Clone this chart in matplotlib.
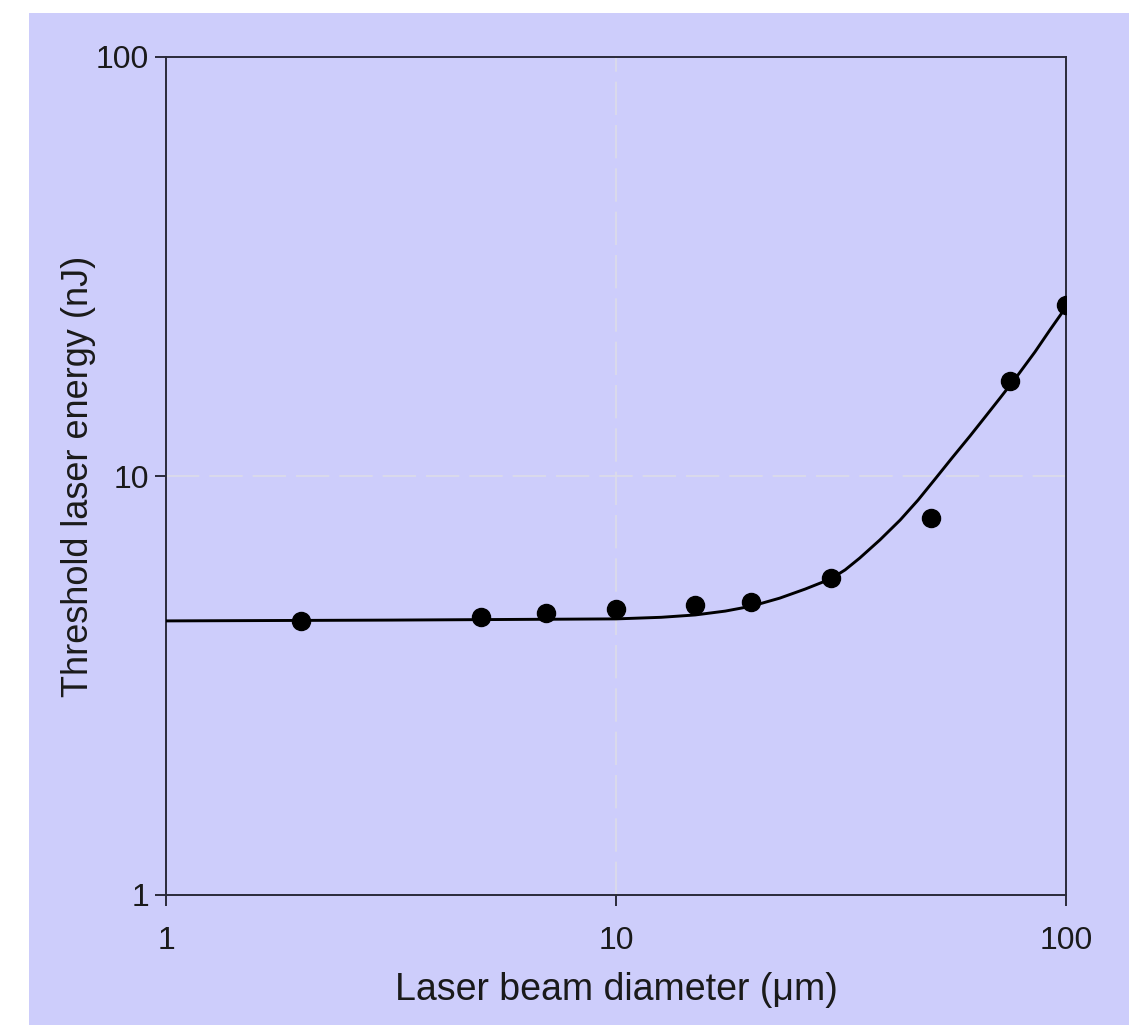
import numpy as np
import matplotlib as mpl
mpl.use('agg')
from matplotlib import pyplot as plt
from matplotlib.patches import Rectangle
from matplotlib.ticker import FixedLocator, NullLocator, FixedFormatter

# measured points
diam = [2, 5, 7, 10, 15, 20, 30, 50, 75, 100]
energy = [4.51, 4.61, 4.71, 4.82, 4.92, 5.0, 5.71, 7.94, 16.85, 25.6]

# fitted curve
fit_diam = [1, 3.16, 10, 12.6, 15, 17.5, 20, 23.1, 26.3, 30, 32.3, 34.8, 38.6,
            42.8, 46.9, 51.2, 55.8, 61.2, 66.1, 71.4, 78.2, 85.3, 92.1, 100]
fit_energy = [4.51, 4.53, 4.56, 4.6, 4.66, 4.76, 4.89, 5.11, 5.37, 5.68, 5.97, 6.37, 7.04,
              7.85, 8.76, 9.84, 11.04, 12.46, 13.83, 15.36, 17.42, 19.77, 22.31, 25.3]

ticks = [1, 10, 100]
tick_labels = ['1', '10', '100']

bg = '#cdcdfb'
plt.rcParams['font.family'] = ['Liberation Sans', 'DejaVu Sans']

fig = plt.figure(figsize=(11.45, 10.25), dpi=100, facecolor='white')
fig.patches.append(Rectangle((29 / 1145, 0), 1100 / 1145, 1012 / 1025,
                             transform=fig.transFigure, facecolor=bg,
                             edgecolor='none', zorder=-10))
ax = fig.add_axes([166 / 1145, 130 / 1025, 900 / 1145, 838 / 1025])
ax.set_facecolor(bg)

ax.plot(fit_diam, fit_energy, color='black', lw=2.1, zorder=3,
        solid_joinstyle='round')
ax.plot(diam, energy, 'o', color='black', markersize=13, zorder=4)

ax.set_xscale('log')
ax.set_yscale('log')
ax.set_xlim(1, 100)
ax.set_ylim(1, 100)

for axis in (ax.xaxis, ax.yaxis):
    axis.set_major_locator(FixedLocator(ticks))
    axis.set_major_formatter(FixedFormatter(tick_labels))
    axis.set_minor_locator(NullLocator())

ax.axvline(10, color='#dcdce8', lw=1.2, dashes=(20, 6), zorder=1)
ax.axhline(10, color='#dcdce8', lw=1.2, dashes=(20, 6), zorder=1)

for s in ax.spines.values():
    s.set_color('#2a2a3a')
    s.set_linewidth(1.4)

ax.tick_params(axis='both', direction='out', length=8, width=1.4,
               color='#2a2a3a', labelsize=23, labelcolor='#1a1a1a')
ax.tick_params(axis='x', pad=14)
ax.tick_params(axis='y', pad=4)

ax.set_xlabel('Laser beam diameter (\u03bcm)', fontsize=27, color='#1a1a1a', labelpad=12)
ax.set_ylabel('Threshold laser energy (nJ)', fontsize=26, color='#1a1a1a', labelpad=0)

plt.savefig('out.png', dpi=100, facecolor='white')
